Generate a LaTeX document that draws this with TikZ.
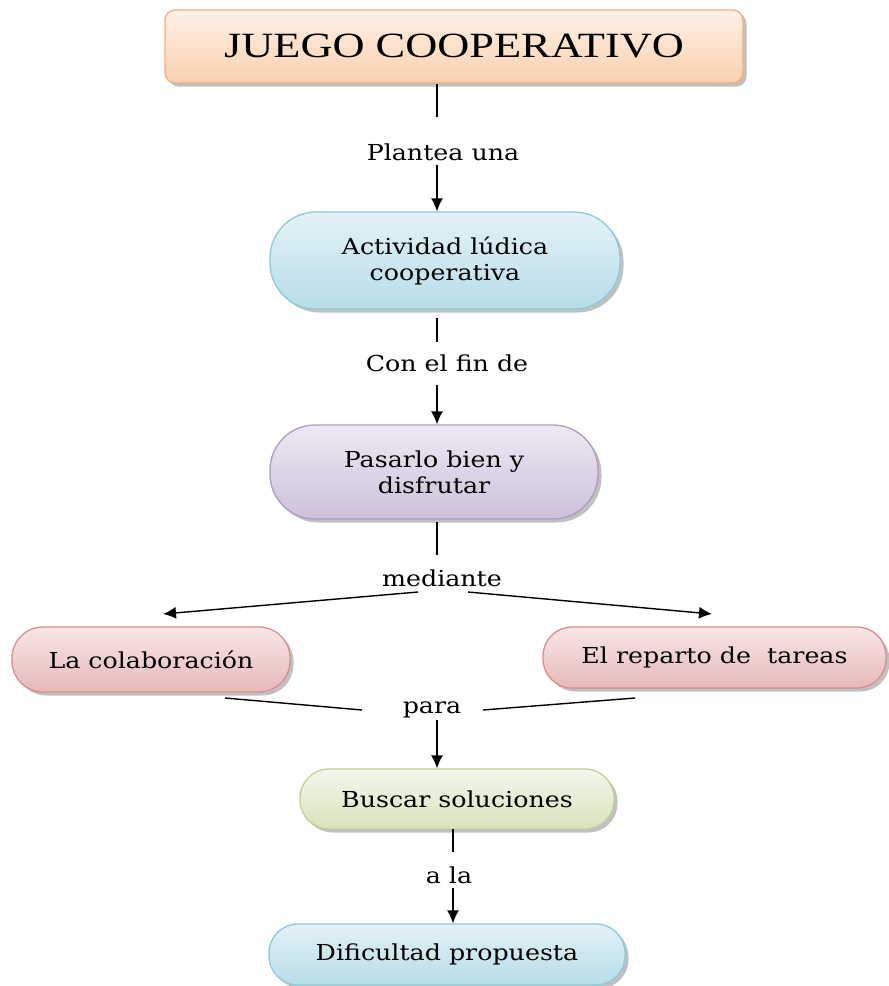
\documentclass[tikz,border=0pt]{standalone}
\usepackage{fontspec}
\setmainfont{DejaVu Serif}[FakeStretch=1.15]
\newfontfamily\titlefont{Liberation Serif}[FakeStretch=1.25]
\usetikzlibrary{arrows.meta,shadows}
\definecolor{orB}{HTML}{F2AE7C}\definecolor{orT}{HTML}{FEF1E7}\definecolor{orD}{HTML}{F9D0AE}
\definecolor{blB}{HTML}{8CCADB}\definecolor{blT}{HTML}{E3F2F7}\definecolor{blD}{HTML}{B7DDE8}
\definecolor{puB}{HTML}{AE9CC4}\definecolor{puT}{HTML}{EEE9F3}\definecolor{puD}{HTML}{CCC1DA}
\definecolor{rdB}{HTML}{D88F8D}\definecolor{rdT}{HTML}{F8E6E6}\definecolor{rdD}{HTML}{E6B9B8}
\definecolor{grB}{HTML}{BFD396}\definecolor{grT}{HTML}{F3F7EA}\definecolor{grD}{HTML}{D7E4BD}
\tikzset{
  pill/.style n args={3}{draw=#1, top color=#2, bottom color=#3, line width=1.3pt,
    drop shadow={shadow xshift=3.5pt, shadow yshift=-3.5pt, fill=black!45, opacity=.55},
    align=center, inner sep=0pt, font=\fontsize{22}{26}\selectfont},
  lbl/.style={inner sep=0pt, font=\fontsize{22}{26}\selectfont},
  conn/.style={line width=1.4pt, draw=black},
  arr/.style={conn, -{Latex[length=13pt,width=12pt]}}
}
\begin{document}
\begin{tikzpicture}[x=1pt,y=-1pt]
\useasboundingbox (0,0) rectangle (889,986);
% boxes
\node[pill={orB}{orT}{orD}, rounded corners=10pt, minimum width=578pt, minimum height=73pt,
  font=\titlefont\fontsize{35.5}{40}\selectfont] (title) at (454,46.5) {JUEGO COOPERATIVO};
\node[pill={blB}{blT}{blD}, rounded corners=46pt, minimum width=350pt, minimum height=97pt] (act) at (445,260.5) {Actividad lúdica\\cooperativa};
\node[pill={puB}{puT}{puD}, rounded corners=45pt, minimum width=328pt, minimum height=94pt] (pas) at (434,472) {Pasarlo bien y\\disfrutar};
\node[pill={rdB}{rdT}{rdD}, rounded corners=31pt, minimum width=278pt, minimum height=65pt] (colab) at (151,659.5) {La colaboración};
\node[pill={rdB}{rdT}{rdD}, rounded corners=29pt, minimum width=343pt, minimum height=61pt] (rep) at (714.5,657.5) {El reparto de~ tareas};
\node[pill={grB}{grT}{grD}, rounded corners=29pt, minimum width=314pt, minimum height=60pt] (busc) at (457,799) {Buscar soluciones};
\node[pill={blB}{blT}{blD}, rounded corners=29pt, minimum width=356pt, minimum height=61pt] (dif) at (447,954.5) {Dificultad propuesta};
% labels
\node[lbl] (l1) at (443,152) {Plantea una};
\node[lbl] (l2) at (447,363) {Con el fin de};
\node[lbl] (l3) at (442,578) {mediante};
\node[lbl] (l4) at (432,710) {para};
\node[lbl] (l5) at (449,875) {a la};
% coordinates
\coordinate (a1) at (437,117); \coordinate (b1) at (437,165);
\coordinate (a2top) at (437,318); \coordinate (a2) at (437,342); \coordinate (b2) at (437,385);
\coordinate (a3top) at (437,522); \coordinate (a3) at (437,555);
\coordinate (m1) at (418,592); \coordinate (m2) at (468,592);
\coordinate (t1) at (163,614); \coordinate (t2) at (712,614);
\coordinate (p1) at (225,698); \coordinate (p2) at (362,710);
\coordinate (q1) at (635,698); \coordinate (q2) at (483,710);
\coordinate (b4) at (437,720);
\coordinate (a5top) at (453,829); \coordinate (a5) at (453,852); \coordinate (b5) at (453,888);
% connectors
\draw[conn] (title.south -| a1) -- (a1);
\draw[arr] (b1) -- (act.north -| b1);
\draw[conn] (a2top) -- (a2);
\draw[arr] (b2) -- (pas.north -| b2);
\draw[conn] (a3top) -- (a3);
\draw[arr] (m1) -- (t1);
\draw[arr] (m2) -- (t2);
\draw[conn] (p1) -- (p2);
\draw[conn] (q1) -- (q2);
\draw[arr] (b4) -- (busc.north -| b4);
\draw[conn] (a5top) -- (a5);
\draw[arr] (b5) -- (dif.north -| b5);
\end{tikzpicture}
\end{document}
